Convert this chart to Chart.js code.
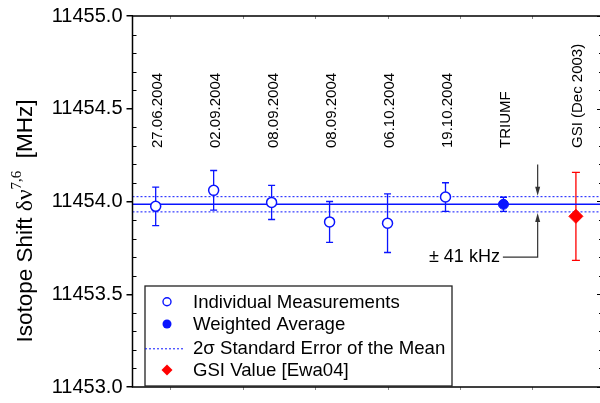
<!DOCTYPE html>
<html>
<head>
<meta charset="utf-8">
<script src="https://cdn.jsdelivr.net/npm/chart.js@4/dist/chart.umd.min.js"></script>
<style>
  html, body { margin: 0; padding: 0; overflow: hidden; background: #fff; }
  canvas { display: block; }
</style>
</head>
<body>
<canvas id="chart" width="610" height="403" style="width:610px;height:403px"></canvas>
<script>
// Run labels written above each measurement
const runLabels = ['27.06.2004', '02.09.2004', '08.09.2004', '08.09.2004', '06.10.2004', '19.10.2004', 'TRIUMF', 'GSI (Dec 2003)'];
const runX = [1, 2, 3, 4, 5, 6, 7, 8.25];

// Individual measurements (MHz) and their uncertainties
const measX = [1, 2, 3, 4, 5, 6];
const measValues = [11453.974, 11454.060, 11453.995, 11453.890, 11453.883, 11454.024];
const measErrors = [0.104, 0.107, 0.092, 0.110, 0.158, 0.077];

// Weighted average of the TRIUMF runs
const avgX = [7];
const avgValues = [11453.985];
const avgErrors = [0.038];

// Earlier GSI value
const gsiX = [8.25];
const gsiValues = [11453.92];
const gsiErrors = [0.237];

// Mean line and its 2-sigma band (± 41 kHz)
const meanValue = 11453.985;
const meanBand = 0.041;
const bandLabel = '\u00b1 41 kHz';

// Axis ticks
const yTicks = [11453.0, 11453.5, 11454.0, 11454.5, 11455.0];
const yMinorStep = 0.1;
const xFrameTicks = [1.25, 2.5, 3.75, 5, 6.25, 7.5];
const xRange = [0.6, 8.7];

const legendLabels = ['Individual Measurements', 'Weighted Average', '2\u03c3 Standard Error of the Mean', 'GSI Value [Ewa04]'];

const BLUE = 'rgb(10,20,255)';
const RED = 'rgb(255,0,0)';
const SANS = 'Arial, "Liberation Sans", sans-serif';
const SERIF = '"Times New Roman", "Liberation Serif", serif';

const pts = (xs, ys) => xs.map((x, i) => ({ x, y: ys[i] }));

// Vertical error bars with caps, drawn beneath the markers
const errorBars = {
  id: 'errorBars',
  beforeDatasetsDraw(chart) {
    const { ctx, scales: { x, y } } = chart;
    const groups = [
      [measX, measValues, measErrors, BLUE, 3.5],
      [avgX, avgValues, avgErrors, BLUE, 3.5],
      [gsiX, gsiValues, gsiErrors, RED, 4]
    ];
    ctx.save();
    ctx.lineWidth = 1.3;
    groups.forEach(([xs, vs, es, color, cap]) => {
      ctx.strokeStyle = color;
      xs.forEach((xv, i) => {
        const px = x.getPixelForValue(xv);
        const top = y.getPixelForValue(vs[i] + es[i]);
        const bot = y.getPixelForValue(vs[i] - es[i]);
        ctx.beginPath();
        ctx.moveTo(px, top); ctx.lineTo(px, bot);
        ctx.moveTo(px - cap, top); ctx.lineTo(px + cap, top);
        ctx.moveTo(px - cap, bot); ctx.lineTo(px + cap, bot);
        ctx.stroke();
      });
    });
    ctx.restore();
  }
};

// Plot frame with minor ticks on all sides
const frame = {
  id: 'frame',
  afterDatasetsDraw(chart) {
    const { ctx, chartArea: a, scales: { x, y } } = chart;
    ctx.save();
    ctx.strokeStyle = '#000';
    ctx.lineWidth = 1;
    ctx.beginPath();
    for (let v = y.min; v <= y.max + 1e-9; v += yMinorStep) {
      const py = Math.round(y.getPixelForValue(v)) + 0.5;
      const major = yTicks.some(t => Math.abs(t - v) < 1e-6);
      if (!major) { ctx.moveTo(a.left, py); ctx.lineTo(a.left + 4, py); }
      ctx.moveTo(a.right, py); ctx.lineTo(a.right - (major ? 5 : 3), py);
    }
    ctx.stroke();
    ctx.strokeStyle = '#888';
    ctx.beginPath();
    xFrameTicks.forEach(v => {
      const px = Math.round(x.getPixelForValue(v)) + 0.5;
      ctx.moveTo(px, a.top); ctx.lineTo(px, a.top + 3);
      ctx.moveTo(px, a.bottom); ctx.lineTo(px, a.bottom + 3);
    });
    ctx.stroke();
    ctx.strokeStyle = '#000';
    ctx.lineWidth = 1.5;
    ctx.strokeRect(a.left, a.top, a.right - a.left, a.bottom - a.top);
    ctx.restore();
  }
};

// Run names, rotated, above the points
const runNames = {
  id: 'runNames',
  afterDatasetsDraw(chart) {
    const { ctx, scales: { x } } = chart;
    ctx.save();
    ctx.font = '15px ' + SANS;
    ctx.fillStyle = '#000';
    ctx.textAlign = 'left';
    ctx.textBaseline = 'alphabetic';
    runLabels.forEach((t, i) => {
      const px = x.getPixelForValue(runX[i]) + 1 + 5.4;
      ctx.save();
      ctx.translate(px, 148);
      ctx.rotate(-Math.PI / 2);
      ctx.fillText(t, 0, 0);
      ctx.restore();
    });
    ctx.restore();
  }
};

// Arrows marking the width of the band, with its label
const bandNote = {
  id: 'bandNote',
  afterDatasetsDraw(chart) {
    const { ctx, scales: { x, y } } = chart;
    const ax = x.getPixelForValue(7.59);
    const yTop = y.getPixelForValue(meanValue + meanBand);
    const yBot = y.getPixelForValue(meanValue - meanBand);
    const yStart = y.getPixelForValue(11454.2);
    const yLead = y.getPixelForValue(11453.70);
    const xLead = x.getPixelForValue(6.99);
    ctx.save();
    ctx.strokeStyle = '#333';
    ctx.fillStyle = '#333';
    ctx.lineWidth = 1.2;
    ctx.beginPath();
    ctx.moveTo(ax, yStart); ctx.lineTo(ax, yTop - 6);
    ctx.moveTo(ax, yBot + 6); ctx.lineTo(ax, yLead); ctx.lineTo(xLead, yLead);
    ctx.stroke();
    const head = (tipY, dir) => {
      ctx.beginPath();
      ctx.moveTo(ax, tipY);
      ctx.lineTo(ax - 2.5, tipY - dir * 9);
      ctx.lineTo(ax + 2.5, tipY - dir * 9);
      ctx.closePath();
      ctx.fill();
    };
    head(yTop - 1, 1);
    head(yBot + 1, -1);
    ctx.font = '18px ' + SANS;
    ctx.fillStyle = '#000';
    ctx.textAlign = 'right';
    ctx.textBaseline = 'middle';
    ctx.fillText(bandLabel, xLead - 3, yLead);
    ctx.restore();
  }
};

// Legend box inside the plot
const legendBox = {
  id: 'legendBox',
  afterDatasetsDraw(chart) {
    const { ctx, chartArea: a } = chart;
    const L = a.left + 12.5, T = 286, R = 452, B = 386;
    ctx.save();
    ctx.fillStyle = '#fff';
    ctx.fillRect(L, T, R - L, B - T);
    ctx.strokeStyle = '#222';
    ctx.lineWidth = 1.3;
    ctx.strokeRect(L, T, R - L, B - T);
    const mx = 167, tx = 193;
    const rows = [301.7, 324, 348.3, 370];
    ctx.lineWidth = 1.4;
    ctx.strokeStyle = BLUE;
    ctx.beginPath(); ctx.arc(mx, rows[0], 4, 0, Math.PI * 2);
    ctx.fillStyle = '#fff'; ctx.fill(); ctx.stroke();
    ctx.fillStyle = BLUE;
    ctx.beginPath(); ctx.arc(mx, rows[1], 4.5, 0, Math.PI * 2); ctx.fill();
    ctx.lineWidth = 1;
    ctx.setLineDash([2, 2]);
    ctx.beginPath(); ctx.moveTo(L, rows[2] + 0.5); ctx.lineTo(185, rows[2] + 0.5); ctx.stroke();
    ctx.setLineDash([]);
    ctx.fillStyle = RED;
    ctx.beginPath();
    ctx.moveTo(mx, rows[3] - 5.5); ctx.lineTo(mx + 5.5, rows[3]);
    ctx.lineTo(mx, rows[3] + 5.5); ctx.lineTo(mx - 5.5, rows[3]);
    ctx.closePath(); ctx.fill();
    ctx.fillStyle = '#000';
    ctx.font = '18.6px ' + SANS;
    ctx.textAlign = 'left';
    ctx.textBaseline = 'middle';
    legendLabels.forEach((t, i) => ctx.fillText(t, tx, rows[i] + 1));
    ctx.restore();
  }
};

// Y axis title with symbol and superscript
const yTitle = {
  id: 'yTitle',
  afterDraw(chart) {
    const { ctx } = chart;
    const parts = [
      { t: 'Isotope Shift ', f: '22.5px ' + SANS, dy: 0 },
      { t: '\u03b4\u03bd', f: '23.5px ' + SERIF, dy: 0 },
      { t: '7,6', f: '15px ' + SERIF, dy: -11 },
      { t: '  [MHz]', f: '22.5px ' + SANS, dy: 0 }
    ];
    ctx.save();
    let total = 0;
    parts.forEach(p => { ctx.font = p.f; p.w = ctx.measureText(p.t).width; total += p.w; });
    ctx.translate(32, 221);
    ctx.rotate(-Math.PI / 2);
    ctx.fillStyle = '#000';
    ctx.textBaseline = 'alphabetic';
    ctx.textAlign = 'left';
    let cx = -total / 2;
    parts.forEach(p => { ctx.font = p.f; ctx.fillText(p.t, cx, p.dy); cx += p.w; });
    ctx.restore();
  }
};

new Chart(document.getElementById('chart'), {
  type: 'scatter',
  data: {
    datasets: [
      {
        label: legendLabels[0],
        data: pts(measX, measValues),
        pointStyle: 'circle', pointRadius: 5,
        borderColor: BLUE, backgroundColor: '#fff', borderWidth: 1.5,
        order: 0
      },
      {
        label: legendLabels[1],
        data: pts(avgX, avgValues),
        pointStyle: 'circle', pointRadius: 5,
        borderColor: BLUE, backgroundColor: BLUE, borderWidth: 1,
        order: 0
      },
      {
        label: legendLabels[3],
        data: pts(gsiX, gsiValues),
        pointStyle: 'rectRot', pointRadius: 7,
        borderColor: RED, backgroundColor: RED, borderWidth: 1,
        order: 0
      },
      {
        type: 'line', label: 'mean',
        data: pts(xRange, [meanValue, meanValue]),
        borderColor: BLUE, borderWidth: 1.5, pointRadius: 0, order: 5
      },
      {
        type: 'line', label: legendLabels[2],
        data: pts(xRange, [meanValue + meanBand, meanValue + meanBand]),
        borderColor: BLUE, borderWidth: 1, borderDash: [2, 2], pointRadius: 0, order: 5
      },
      {
        type: 'line', label: 'band low',
        data: pts(xRange, [meanValue - meanBand, meanValue - meanBand]),
        borderColor: BLUE, borderWidth: 1, borderDash: [2, 2], pointRadius: 0, order: 5
      }
    ]
  },
  options: {
    responsive: false,
    animation: false,
    events: [],
    layout: { padding: { left: 0, right: 6.6, top: 14.7, bottom: 12 } },
    plugins: { legend: { display: false }, tooltip: { enabled: false } },
    scales: {
      x: {
        type: 'linear', min: xRange[0], max: xRange[1], display: false
      },
      y: {
        type: 'linear', min: 11453, max: 11455,
        afterBuildTicks: ax => { ax.ticks = yTicks.map(v => ({ value: v })); },
        afterFit: ax => { ax.width = 132.5; },
        ticks: {
          callback: v => Number(v).toFixed(1),
          font: { family: SANS, size: 20 },
          color: '#000',
          padding: 4
        },
        grid: { drawOnChartArea: false, drawTicks: true, tickLength: 6, color: '#000', lineWidth: 1.5 },
        border: { display: false }
      }
    }
  },
  plugins: [errorBars, frame, runNames, bandNote, legendBox, yTitle]
});
</script>
</body>
</html>
